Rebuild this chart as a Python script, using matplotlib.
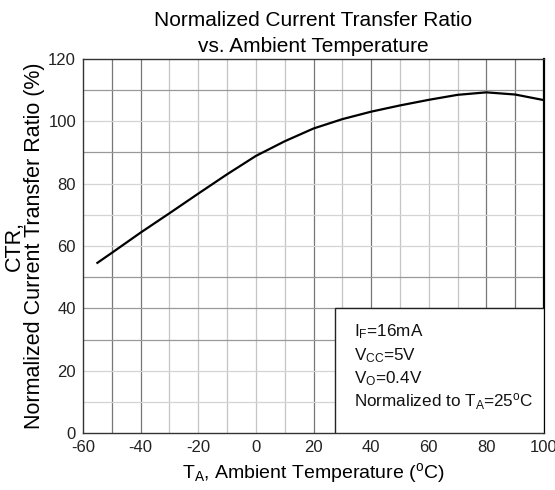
import matplotlib
matplotlib.use("Agg")
import matplotlib.pyplot as plt
from matplotlib.patches import Rectangle

plt.rcParams["font.family"] = ["Liberation Sans", "DejaVu Sans"]
plt.rcParams["mathtext.fontset"] = "custom"
plt.rcParams["mathtext.rm"] = "Liberation Sans"
plt.rcParams["mathtext.it"] = "Liberation Sans"
plt.rcParams["axes.unicode_minus"] = False

# Curva
temp = [-55, -50, -40, -30, -20, -10, 0, 10, 20, 30, 40, 50, 60, 70, 80, 90, 100]
ctr = [54.6, 57.8, 64.3, 70.5, 76.8, 83.0, 88.9, 93.6, 97.7, 100.7, 103.1, 105.1,
       106.9, 108.5, 109.3, 108.6, 106.8]

x_ticks = [-60, -40, -20, 0, 20, 40, 60, 80, 100]
y_ticks = [0, 20, 40, 60, 80, 100, 120]

# líneas de rejilla (cada 10) y las que se ven más oscuras
grid_x = list(range(-50, 100, 10))
grid_y = list(range(10, 120, 10))
dark_x = [-50, -40, 20, 40, 80, 90]
dark_y = [110, 90, 50, 40, 30]

fig = plt.figure(figsize=(5.55, 4.9), dpi=100)
ax = fig.add_axes([83 / 555, 1 - 433 / 490, (544 - 83) / 555, (433 - 59) / 490])

for gx in grid_x:
    c = "#777777" if gx in dark_x else "#c4c4c4"
    ax.axvline(gx, color=c, lw=0.9, zorder=1)
for gy in grid_y:
    c = "#999999" if gy in dark_y else "#d4d4d4"
    ax.axhline(gy, color=c, lw=0.9, zorder=1)

ax.plot(temp, ctr, color="black", lw=1.6, zorder=3)

ax.set_xlim(-60, 100)
ax.set_ylim(0, 120)
ax.set_xticks(x_ticks)
ax.set_yticks(y_ticks)
ax.tick_params(length=0, labelsize=12, pad=5, colors="#222222")
for s in ax.spines.values():
    s.set_color("#333333")
    s.set_linewidth(1.0)
ax.spines["right"].set_linewidth(1.6)
ax.spines["right"].set_color("black")

# cuadro de condiciones
ax.add_patch(Rectangle((27.5, 0), 72.5, 40, facecolor="white", edgecolor="#222222",
                       lw=1.0, zorder=4))
cond = [
    r"I$_{\mathregular{F}}$=16mA",
    r"V$_{\mathregular{CC}}$=5V",
    r"V$_{\mathregular{O}}$=0.4V",
    r"Normalized to T$_{\mathregular{A}}$=25$^{\mathregular{o}}$C",
]
for i, t in enumerate(cond):
    ax.text(34.2, 32.4 - i * 7.5, t, fontsize=12.3, va="center", ha="left", zorder=5,
            color="#111111")

ax.set_title("Normalized Current Transfer Ratio\nvs. Ambient Temperature",
             fontsize=15, pad=5, linespacing=1.45)
ax.set_xlabel(r"T$_{\mathregular{A}}$, Ambient Temperature ($^{\mathregular{o}}$C)",
              fontsize=14, labelpad=4)
ax.set_ylabel("CTR,\nNormalized Current Transfer Ratio (%)", fontsize=15.5,
              labelpad=2, linespacing=0.95)

fig.savefig("out.png", dpi=100)
